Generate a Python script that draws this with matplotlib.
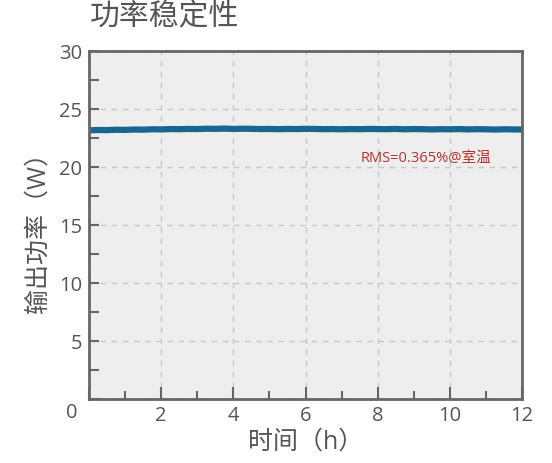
import matplotlib.pyplot as plt
from matplotlib.ticker import MultipleLocator

plt.rcParams['font.family'] = ['Open Sans', 'Noto Sans CJK SC', 'DejaVu Sans']

# 数据（每0.25h读一个点）
hours = [i * 0.25 for i in range(49)]
power = [23.16, 23.19, 23.18, 23.21, 23.20, 23.23, 23.22, 23.25, 23.24,
         23.27, 23.26, 23.28, 23.27, 23.30, 23.29, 23.31, 23.28, 23.30,
         23.29, 23.27, 23.28, 23.26, 23.28, 23.27, 23.29, 23.28, 23.26,
         23.27, 23.25, 23.27, 23.26, 23.28, 23.27, 23.26, 23.28, 23.25,
         23.27, 23.26, 23.24, 23.26, 23.25, 23.27, 23.24, 23.26, 23.25,
         23.23, 23.25, 23.24, 23.23]
rms_text = 'RMS=0.365%@室温'

grey = '#555555'
fig = plt.figure(figsize=(5.52, 4.64), dpi=100)
ax = fig.add_axes([89/552, 1-400/464, (522-89)/552, (400-52)/464])
ax.set_facecolor('#eeeeee')

ax.plot(hours, power, color='#17668f', lw=4.5, solid_capstyle='butt')
ax.text(9.33, 20.85, rms_text, color='#b8312f', fontsize=10.5, ha='center', va='center')

ax.set_xlim(0, 12)
ax.set_ylim(0, 30)
ax.xaxis.set_major_locator(MultipleLocator(2))
ax.xaxis.set_minor_locator(MultipleLocator(1))
ax.yaxis.set_major_locator(MultipleLocator(5))
ax.yaxis.set_minor_locator(MultipleLocator(2.5))
ax.grid(which='major', color='#c8c8c8', ls=(0, (4, 4)), lw=1)
ax.tick_params(which='both', direction='in', color='#666666', width=1.5,
               labelsize=14.5, labelcolor=grey)
ax.tick_params(axis='x', pad=4)
ax.tick_params(axis='y', pad=5)
ax.tick_params(which='major', length=9)
ax.tick_params(which='minor', length=6)
ax.tick_params(axis='y', which='major', length=7)
ax.tick_params(axis='y', which='minor', length=7)
for s in ax.spines.values():
    s.set_color('#666666')
    s.set_linewidth(2)

ax.set_xticks(range(0, 13, 2))
ax.set_xticklabels([''] + [str(v) for v in range(2, 13, 2)])
ax.set_yticks(range(0, 31, 5))
ax.set_yticklabels([''] + [str(v) for v in range(5, 31, 5)])
fig.text(72/552, 1-413/464, '0', color=grey, fontsize=14.5, ha='center', va='center')

ax.set_xlabel('时间（h）', fontsize=18, color=grey, labelpad=3)
ax.set_ylabel('输出功率（W）', fontsize=18, color=grey, labelpad=6)
fig.text(90/552, 1-18/464, '功率稳定性', fontsize=21.5, color=grey, ha='left', va='center')

fig.savefig('out.png', dpi=100)
